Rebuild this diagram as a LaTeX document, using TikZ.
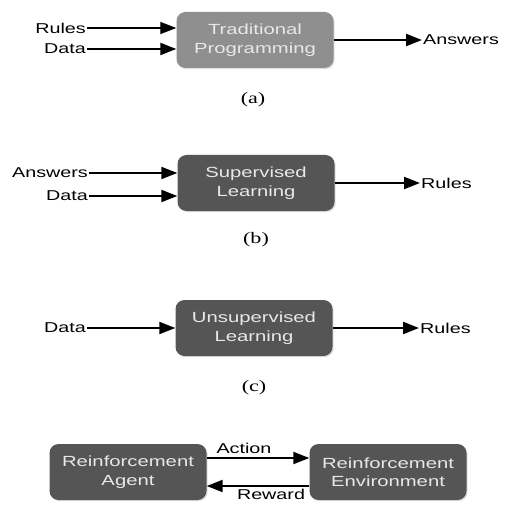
\documentclass[tikz,border=0pt]{standalone}
\usepackage{fontspec}
\setmainfont{Liberation Sans}[FakeStretch=1.38]
\newfontfamily\capfont{Liberation Serif}[FakeStretch=1.38]
\usetikzlibrary{arrows.meta,shadows}
\definecolor{boxlight}{HTML}{8F8F8F}
\definecolor{boxdark}{HTML}{555555}
\definecolor{boxtext}{HTML}{E8E8E8}
\begin{document}
\begin{tikzpicture}[x=1bp,y=-1bp,
  proc/.style={rounded corners=9bp, fill=boxdark, text=boxtext, align=center,
    minimum width=157bp, minimum height=56bp, inner sep=0pt,
    font=\fontsize{14.7bp}{18.5bp}\selectfont,
    drop shadow={opacity=0.25, shadow xshift=1.2bp, shadow yshift=-1.2bp}},
  lbl/.style={font=\fontsize{14.3bp}{17bp}\selectfont, inner sep=1bp},
  subcap/.style={font=\capfont\fontsize{16bp}{18bp}\selectfont},
  flow/.style={line width=2bp, -{Triangle[length=16bp,width=12bp]}},
  lightflow/.style={line width=1.3bp, -{Triangle[length=16bp,width=12bp]}}]
\useasboundingbox (0,0) rectangle (505,521);

% (a) traditional programming
\node[proc, fill=boxlight] (tp) at (255,40) {Traditional\\Programming};
\node[lbl, anchor=east] (ar) at (87,28) {Rules};
\node[lbl, anchor=east] (ad) at (87,49) {Data};
\node[lbl, anchor=west] (aa) at (422,40) {Answers};
\draw[lightflow] (ar.east) -- (ar.east -| tp.west);
\draw[flow] (ad.east) -- (ad.east -| tp.west);
\draw[flow] (tp.east) -- (aa.west);
\node[subcap] (ca) at (253,100) {(a)};

% (b) supervised learning
\node[proc] (sl) at (256,183) {Supervised\\Learning};
\node[lbl, anchor=east] (ba) at (89,173) {Answers};
\node[lbl, anchor=east] (bd) at (89,196) {Data};
\node[lbl, anchor=west] (br) at (420,183) {Rules};
\draw[flow] (ba.east) -- (ba.east -| sl.west);
\draw[flow] (bd.east) -- (bd.east -| sl.west);
\draw[flow] (sl.east) -- (br.west);
\node[subcap] (cb) at (256,240) {(b)};

% (c) unsupervised learning
\node[proc] (ul) at (254,328) {Unsupervised\\Learning};
\node[lbl, anchor=east] (cd) at (87,328) {Data};
\node[lbl, anchor=west] (cr) at (419,328) {Rules};
\draw[flow] (cd.east) -- (ul.west);
\draw[flow] (ul.east) -- (cr.west);
\node[subcap] (cc) at (254,388) {(c)};

% (d) reinforcement learning loop
\node[proc] (ag) at (128,472) {Reinforcement\\Agent};
\node[proc] (en) at (388,472) {Reinforcement\\Environment};
\coordinate (t1) at (0,458);
\coordinate (t2) at (0,486);
\draw[flow] (t1 -| ag.east) -- node[lbl, above=2bp, xshift=-14bp] (act) {Action} (t1 -| en.west);
\draw[flow] (t2 -| en.west) -- node[lbl, below=1bp, xshift=13bp] (rew) {Reward} (t2 -| ag.east);
\end{tikzpicture}
\end{document}
